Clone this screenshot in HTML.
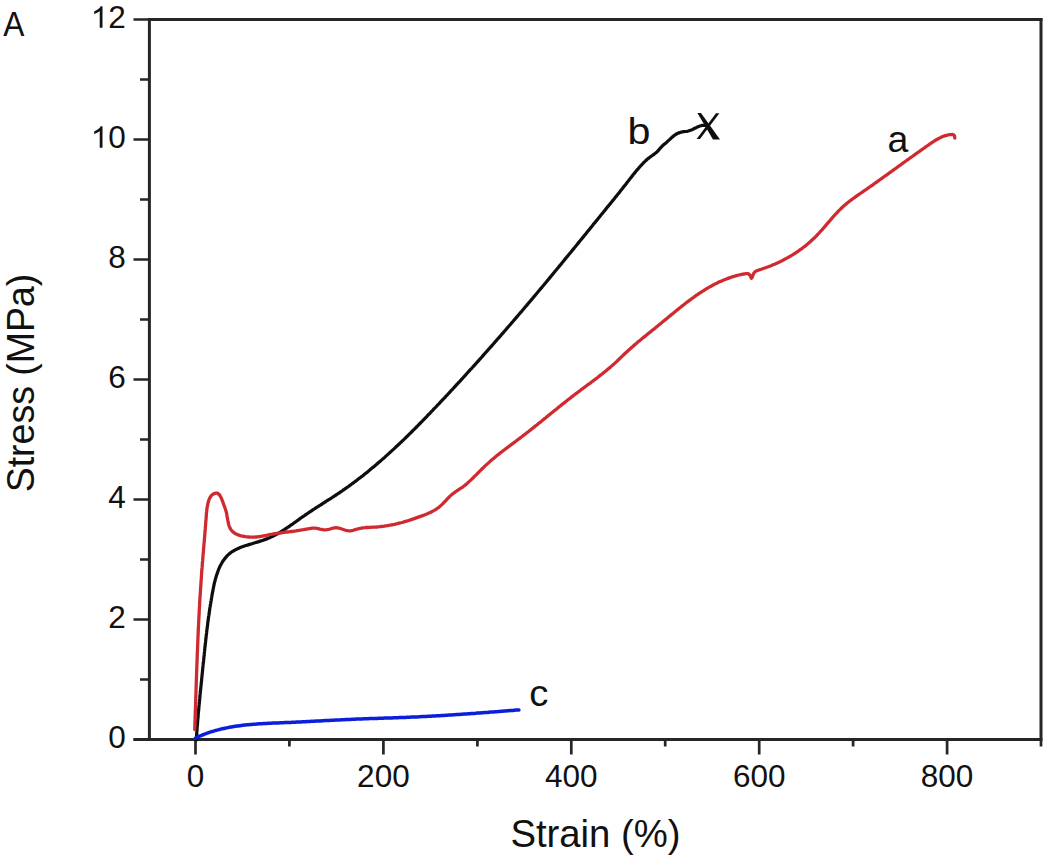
<!DOCTYPE html>
<html><head><meta charset="utf-8"><style>
html,body{margin:0;padding:0;background:#fff;}
svg{display:block;}
text{font-family:"Liberation Sans",sans-serif;fill:#111;}
</style></head><body>
<svg width="1050" height="857" viewBox="0 0 1050 857">
<rect width="1050" height="857" fill="#fff"/>
<path d="M149.4 18.2V739.5 M1041.0 18.2V739.5" stroke="#262626" stroke-width="3" fill="none"/>
<path d="M147.9 19.5H1042.5 M133.5 739.5H1042.5" stroke="#262626" stroke-width="3" fill="none"/>
<path d="M133.5 739.5H149.4 M140 679.5H149.4 M133.5 619.5H149.4 M140 559.5H149.4 M133.5 499.5H149.4 M140 439.5H149.4 M133.5 379.5H149.4 M140 319.5H149.4 M133.5 259.5H149.4 M140 199.5H149.4 M133.5 139.5H149.4 M140 79.5H149.4 M133.5 19.5H149.4 M195.5 739.5V754.5 M289.4 739.5V746.5 M383.4 739.5V754.5 M477.4 739.5V746.5 M571.3 739.5V754.5 M665.2 739.5V746.5 M759.2 739.5V754.5 M853.1 739.5V746.5 M947.1 739.5V754.5 M1041.0 739.5V746.5" stroke="#262626" stroke-width="2.7" fill="none"/>
<text x="125.8" y="747.8" text-anchor="end" font-size="31.5">0</text>
<text x="125.8" y="627.8" text-anchor="end" font-size="31.5">2</text>
<text x="125.8" y="507.8" text-anchor="end" font-size="31.5">4</text>
<text x="125.8" y="387.8" text-anchor="end" font-size="31.5">6</text>
<text x="125.8" y="267.8" text-anchor="end" font-size="31.5">8</text>
<text x="125.8" y="147.8" text-anchor="end" font-size="31.5">0</text>
<path transform="translate(90.76 147.80) scale(0.015381 -0.015381)" d="M763 0H583V1098Q518 1038 412 979T223 890V1057Q375 1125 489 1221T650 1409H763Z" fill="#111"/>
<text x="125.8" y="27.8" text-anchor="end" font-size="31.5">2</text>
<path transform="translate(90.76 27.80) scale(0.015381 -0.015381)" d="M763 0H583V1098Q518 1038 412 979T223 890V1057Q375 1125 489 1221T650 1409H763Z" fill="#111"/>
<text x="195.5" y="787" text-anchor="middle" font-size="31.5">0</text>
<text x="383.4" y="787" text-anchor="middle" font-size="31.5">200</text>
<text x="571.3" y="787" text-anchor="middle" font-size="31.5">400</text>
<text x="759.2" y="787" text-anchor="middle" font-size="31.5">600</text>
<text x="947.1" y="787" text-anchor="middle" font-size="31.5">800</text>
<text transform="translate(595.5 846.6) scale(1 1.03)" text-anchor="middle" font-size="38.3">Strain (%)</text>
<text transform="translate(34 383) rotate(-90) scale(1 1.05)" text-anchor="middle" font-size="37.5">Stress (MPa)</text>
<text transform="translate(3.2 35.6) scale(0.88 1)" font-size="36">A</text>
<text transform="translate(627.6 143.6) scale(1.1 1)" font-size="37.5">b</text>
<text x="887.5" y="151.5" font-size="37.5">a</text>
<text transform="translate(529.2 706) scale(1.05 1)" font-size="36.5">c</text>
<path d="M196.4 739.9 L196.4 738.5 L196.5 737.0 L196.6 735.5 L196.7 734.1 L196.8 732.6 L196.9 731.1 L197.0 729.7 L197.1 728.2 L197.2 726.7 L197.4 725.2 L197.5 723.8 L197.6 722.3 L197.7 720.8 L197.8 719.3 L198.0 717.8 L198.1 716.3 L198.2 714.8 L198.3 713.3 L198.5 711.8 L198.6 710.3 L198.8 708.8 L198.9 707.3 L199.0 705.7 L199.2 704.2 L199.3 702.7 L199.5 701.2 L199.6 699.7 L199.8 698.2 L199.9 696.7 L200.0 695.2 L200.2 693.7 L200.3 692.1 L200.5 690.6 L200.7 689.1 L200.8 687.6 L201.0 686.1 L201.1 684.6 L201.3 683.1 L201.4 681.6 L201.6 680.1 L201.7 678.6 L201.9 677.1 L202.0 675.6 L202.2 674.1 L202.3 672.6 L202.5 671.1 L202.6 669.6 L202.8 668.1 L202.9 666.6 L203.1 665.2 L203.2 663.7 L203.4 662.2 L203.6 660.7 L203.7 659.3 L203.9 657.8 L204.0 656.3 L204.2 654.9 L204.3 653.4 L204.5 651.9 L204.6 650.5 L204.8 649.0 L204.9 647.5 L205.1 646.1 L205.2 644.6 L205.4 643.1 L205.6 641.7 L205.7 640.2 L205.9 638.8 L206.1 637.3 L206.2 635.8 L206.4 634.4 L206.6 632.9 L206.7 631.5 L206.9 630.0 L207.1 628.5 L207.3 627.1 L207.5 625.6 L207.7 624.1 L207.8 622.6 L208.0 621.2 L208.2 619.7 L208.4 618.2 L208.6 616.7 L208.9 615.2 L209.1 613.8 L209.3 612.3 L209.5 610.8 L209.7 609.3 L209.9 607.8 L210.2 606.3 L210.4 604.8 L210.7 603.3 L210.9 601.8 L211.2 600.2 L211.4 598.7 L211.7 597.2 L211.9 595.7 L212.2 594.1 L212.5 592.6 L212.8 591.1 L213.1 589.5 L213.4 588.0 L213.7 586.5 L214.0 584.9 L214.3 583.4 L214.7 581.9 L215.1 580.4 L215.5 578.9 L215.9 577.4 L216.3 576.0 L216.8 574.5 L217.3 573.1 L217.8 571.7 L218.3 570.3 L218.8 569.0 L219.4 567.6 L220.0 566.3 L220.7 565.0 L221.4 563.8 L222.1 562.5 L222.8 561.3 L223.6 560.2 L224.4 559.1 L225.3 558.0 L226.2 556.9 L227.1 555.9 L228.1 554.9 L229.1 554.0 L230.2 553.1 L231.3 552.3 L232.4 551.5 L233.6 550.8 L234.9 550.1 L236.1 549.4 L237.5 548.8 L238.8 548.2 L240.2 547.6 L241.6 547.0 L243.0 546.5 L244.4 546.0 L245.9 545.5 L247.4 545.1 L248.9 544.6 L250.4 544.1 L251.9 543.7 L253.4 543.2 L254.9 542.8 L256.4 542.3 L258.0 541.9 L259.5 541.4 L261.0 540.9 L262.4 540.5 L263.9 539.9 L265.4 539.4 L266.8 538.9 L268.2 538.3 L269.6 537.7 L271.0 537.1 L272.4 536.4 L273.7 535.8 L275.1 535.1 L276.4 534.4 L277.7 533.7 L279.0 532.9 L280.2 532.2 L281.5 531.4 L282.8 530.6 L284.0 529.8 L285.2 529.0 L286.5 528.2 L287.7 527.4 L288.9 526.6 L290.1 525.7 L291.3 524.9 L292.5 524.1 L293.7 523.2 L294.9 522.3 L296.1 521.5 L297.3 520.6 L298.5 519.8 L299.7 518.9 L300.9 518.0 L302.1 517.2 L303.4 516.3 L304.6 515.5 L305.8 514.6 L307.0 513.8 L308.2 513.0 L309.5 512.1 L310.7 511.3 L312.0 510.5 L313.2 509.6 L314.5 508.8 L315.7 508.0 L317.0 507.2 L318.3 506.4 L319.5 505.6 L320.8 504.8 L322.1 504.0 L323.3 503.1 L324.6 502.3 L325.9 501.5 L327.1 500.7 L328.4 499.9 L329.7 499.1 L331.0 498.3 L332.2 497.5 L333.5 496.6 L334.7 495.8 L336.0 495.0 L337.3 494.2 L338.5 493.3 L339.8 492.5 L341.0 491.6 L342.3 490.8 L343.5 489.9 L344.7 489.1 L346.0 488.2 L347.2 487.3 L348.4 486.5 L349.6 485.6 L350.8 484.7 L352.0 483.8 L353.3 482.9 L354.5 482.0 L355.7 481.1 L356.9 480.2 L358.0 479.3 L359.2 478.4 L360.4 477.5 L361.6 476.6 L362.8 475.7 L364.0 474.7 L365.1 473.8 L366.3 472.9 L367.5 471.9 L368.6 471.0 L369.8 470.0 L370.9 469.1 L372.1 468.1 L373.2 467.2 L374.4 466.2 L375.5 465.3 L376.7 464.3 L377.8 463.3 L378.9 462.3 L380.1 461.4 L381.2 460.4 L382.3 459.4 L383.4 458.4 L384.6 457.4 L385.7 456.4 L386.8 455.4 L387.9 454.4 L389.0 453.4 L390.1 452.4 L391.2 451.4 L392.3 450.4 L393.4 449.4 L394.5 448.4 L395.6 447.3 L396.7 446.3 L397.8 445.3 L398.9 444.3 L400.0 443.2 L401.0 442.2 L402.1 441.2 L403.2 440.1 L404.3 439.1 L405.3 438.1 L406.4 437.0 L407.5 436.0 L408.6 434.9 L409.6 433.9 L410.7 432.8 L411.8 431.8 L412.8 430.7 L413.9 429.6 L414.9 428.6 L416.0 427.5 L417.0 426.5 L418.1 425.4 L419.1 424.3 L420.2 423.3 L421.2 422.2 L422.3 421.1 L423.3 420.0 L424.4 419.0 L425.4 417.9 L426.5 416.8 L427.5 415.7 L428.5 414.7 L429.6 413.6 L430.6 412.5 L431.6 411.4 L432.7 410.3 L433.7 409.2 L434.7 408.2 L435.8 407.1 L436.8 406.0 L437.8 404.9 L438.9 403.8 L439.9 402.7 L440.9 401.6 L441.9 400.5 L443.0 399.4 L444.0 398.4 L445.0 397.3 L446.0 396.2 L447.1 395.1 L448.1 394.0 L449.1 392.9 L450.1 391.8 L451.1 390.7 L452.2 389.6 L453.2 388.5 L454.2 387.4 L455.2 386.3 L456.2 385.2 L457.2 384.1 L458.2 383.0 L459.3 381.9 L460.3 380.8 L461.3 379.7 L462.3 378.6 L463.3 377.5 L464.3 376.4 L465.3 375.3 L466.3 374.1 L467.3 373.0 L468.3 371.9 L469.3 370.8 L470.3 369.7 L471.4 368.6 L472.4 367.5 L473.4 366.4 L474.4 365.3 L475.4 364.2 L476.4 363.0 L477.4 361.9 L478.4 360.8 L479.4 359.7 L480.4 358.6 L481.4 357.5 L482.4 356.4 L483.3 355.2 L484.3 354.1 L485.3 353.0 L486.3 351.9 L487.3 350.8 L488.3 349.6 L489.3 348.5 L490.3 347.4 L491.3 346.3 L492.3 345.2 L493.3 344.0 L494.3 342.9 L495.2 341.8 L496.2 340.7 L497.2 339.5 L498.2 338.4 L499.2 337.3 L500.2 336.2 L501.2 335.0 L502.1 333.9 L503.1 332.8 L504.1 331.7 L505.1 330.5 L506.1 329.4 L507.0 328.3 L508.0 327.1 L509.0 326.0 L510.0 324.9 L511.0 323.7 L511.9 322.6 L512.9 321.5 L513.9 320.3 L514.9 319.2 L515.8 318.1 L516.8 316.9 L517.8 315.8 L518.7 314.7 L519.7 313.5 L520.7 312.4 L521.7 311.3 L522.6 310.1 L523.6 309.0 L524.6 307.8 L525.5 306.7 L526.5 305.6 L527.5 304.4 L528.4 303.3 L529.4 302.1 L530.4 301.0 L531.3 299.9 L532.3 298.7 L533.2 297.6 L534.2 296.4 L535.2 295.3 L536.1 294.1 L537.1 293.0 L538.1 291.8 L539.0 290.7 L540.0 289.5 L540.9 288.4 L541.9 287.3 L542.8 286.1 L543.8 285.0 L544.8 283.8 L545.7 282.7 L546.7 281.5 L547.6 280.4 L548.6 279.2 L549.5 278.1 L550.5 276.9 L551.4 275.8 L552.4 274.6 L553.3 273.5 L554.3 272.3 L555.2 271.1 L556.2 270.0 L557.2 268.8 L558.1 267.7 L559.1 266.5 L560.0 265.4 L561.0 264.2 L561.9 263.1 L562.8 261.9 L563.8 260.8 L564.7 259.6 L565.7 258.4 L566.6 257.3 L567.6 256.1 L568.5 255.0 L569.5 253.8 L570.4 252.7 L571.4 251.5 L572.3 250.3 L573.3 249.2 L574.2 248.0 L575.2 246.9 L576.1 245.7 L577.1 244.5 L578.0 243.4 L578.9 242.2 L579.9 241.1 L580.8 239.9 L581.8 238.7 L582.7 237.6 L583.7 236.4 L584.6 235.3 L585.6 234.1 L586.5 232.9 L587.4 231.8 L588.4 230.6 L589.3 229.5 L590.3 228.3 L591.2 227.1 L592.2 226.0 L593.1 224.8 L594.0 223.6 L595.0 222.5 L595.9 221.3 L596.9 220.2 L597.8 219.0 L598.8 217.8 L599.7 216.7 L600.6 215.5 L601.6 214.3 L602.5 213.2 L603.5 212.0 L604.4 210.8 L605.4 209.7 L606.3 208.5 L607.2 207.3 L608.2 206.2 L609.1 205.0 L610.1 203.9 L611.0 202.7 L612.0 201.5 L612.9 200.4 L613.9 199.2 L614.8 198.0 L615.7 196.9 L616.7 195.7 L617.6 194.5 L618.6 193.4 L619.5 192.2 L620.4 191.0 L621.4 189.8 L622.3 188.7 L623.2 187.5 L624.1 186.3 L625.1 185.1 L626.0 184.0 L626.9 182.8 L627.8 181.6 L628.7 180.4 L629.6 179.2 L630.6 178.0 L631.5 176.9 L632.4 175.7 L633.3 174.5 L634.3 173.4 L635.2 172.2 L636.2 171.0 L637.1 169.9 L638.1 168.8 L639.1 167.6 L640.1 166.5 L641.1 165.4 L642.1 164.3 L643.2 163.2 L644.2 162.1 L645.3 161.1 L646.4 160.0 L647.5 159.0 L648.7 158.1 L649.9 157.2 L651.1 156.3 L652.3 155.5 L653.5 154.6 L654.7 153.7 L655.9 152.8 L657.0 151.9 L658.0 150.8 L659.0 149.7 L660.0 148.5 L661.0 147.4 L662.0 146.3 L663.1 145.3 L664.2 144.3 L665.3 143.4 L666.5 142.4 L667.6 141.4 L668.7 140.4 L669.8 139.4 L670.9 138.3 L672.1 137.3 L673.2 136.3 L674.4 135.4 L675.6 134.5 L676.9 133.8 L678.2 133.1 L679.6 132.6 L681.0 132.2 L682.5 131.9 L683.9 131.7 L685.4 131.5 L686.9 131.3 L688.4 131.0 L689.8 130.5 L691.2 130.0 L692.6 129.4 L693.9 128.7 L695.3 128.0 L696.6 127.4 L698.0 126.7 L699.3 126.2 L700.8 125.8 L702.2 125.4 L703.7 125.3 L705.2 125.3 L706.8 125.6" stroke="#0e0e0e" stroke-width="3.25" fill="none" stroke-linejoin="round" stroke-linecap="round"/>
<path d="M194.7 729.5 L194.8 728.0 L194.8 726.5 L194.9 725.0 L194.9 723.5 L195.0 722.0 L195.0 720.5 L195.1 719.0 L195.1 717.5 L195.2 716.0 L195.2 714.5 L195.3 713.0 L195.3 711.5 L195.4 710.0 L195.4 708.5 L195.5 707.0 L195.5 705.5 L195.6 704.0 L195.6 702.5 L195.7 701.0 L195.7 699.5 L195.8 698.0 L195.8 696.5 L195.9 695.0 L195.9 693.5 L196.0 692.0 L196.0 690.5 L196.1 689.0 L196.1 687.5 L196.2 686.0 L196.2 684.5 L196.3 683.0 L196.3 681.5 L196.4 680.0 L196.4 678.5 L196.5 677.0 L196.5 675.5 L196.6 674.0 L196.6 672.5 L196.7 671.0 L196.7 669.6 L196.8 668.1 L196.8 666.6 L196.9 665.1 L197.0 663.6 L197.0 662.1 L197.1 660.6 L197.1 659.1 L197.2 657.6 L197.2 656.1 L197.3 654.6 L197.3 653.1 L197.4 651.6 L197.5 650.1 L197.5 648.6 L197.6 647.1 L197.6 645.6 L197.7 644.1 L197.8 642.6 L197.8 641.1 L197.9 639.6 L197.9 638.1 L198.0 636.6 L198.1 635.1 L198.1 633.6 L198.2 632.1 L198.3 630.6 L198.3 629.1 L198.4 627.6 L198.5 626.1 L198.6 624.6 L198.6 623.1 L198.7 621.7 L198.8 620.2 L198.8 618.7 L198.9 617.2 L199.0 615.7 L199.1 614.2 L199.2 612.7 L199.2 611.2 L199.3 609.7 L199.4 608.2 L199.5 606.7 L199.6 605.2 L199.6 603.7 L199.7 602.2 L199.8 600.7 L199.9 599.2 L200.0 597.7 L200.1 596.2 L200.2 594.7 L200.3 593.2 L200.4 591.7 L200.5 590.2 L200.6 588.7 L200.7 587.2 L200.8 585.7 L200.9 584.2 L201.0 582.7 L201.1 581.2 L201.2 579.7 L201.3 578.2 L201.4 576.7 L201.5 575.2 L201.6 573.7 L201.7 572.2 L201.8 570.7 L201.9 569.2 L202.1 567.7 L202.2 566.2 L202.3 564.7 L202.4 563.2 L202.5 561.7 L202.7 560.2 L202.8 558.7 L202.9 557.3 L203.0 555.8 L203.1 554.3 L203.3 552.8 L203.4 551.3 L203.5 549.8 L203.6 548.3 L203.8 546.8 L203.9 545.3 L204.0 543.8 L204.2 542.3 L204.3 540.8 L204.4 539.3 L204.5 537.8 L204.7 536.3 L204.8 534.9 L204.9 533.4 L205.0 531.9 L205.1 530.4 L205.3 528.9 L205.4 527.4 L205.5 526.0 L205.6 524.5 L205.7 523.0 L205.8 521.5 L206.0 520.1 L206.1 518.6 L206.2 517.1 L206.3 515.6 L206.4 514.2 L206.5 512.7 L206.7 511.2 L206.8 509.7 L207.0 508.2 L207.3 506.7 L207.6 505.1 L207.9 503.6 L208.3 502.0 L208.7 500.5 L209.3 499.0 L210.0 497.6 L210.8 496.3 L211.8 495.1 L213.0 494.2 L214.3 493.5 L215.7 493.1 L216.9 493.1 L218.0 493.6 L219.0 494.4 L219.8 495.4 L220.6 496.8 L221.4 498.2 L222.0 499.8 L222.6 501.4 L223.2 503.0 L223.7 504.5 L224.2 505.9 L224.7 507.2 L225.2 508.5 L225.6 509.8 L226.0 511.1 L226.4 512.5 L226.7 514.0 L226.9 515.5 L227.2 517.1 L227.5 518.7 L227.8 520.3 L228.1 521.9 L228.4 523.4 L228.8 525.0 L229.3 526.4 L229.9 527.8 L230.6 529.1 L231.4 530.2 L232.3 531.3 L233.3 532.2 L234.4 533.0 L235.6 533.7 L236.9 534.4 L238.2 534.9 L239.6 535.4 L241.1 535.8 L242.5 536.1 L244.0 536.4 L245.5 536.7 L247.0 536.9 L248.6 537.0 L250.1 537.1 L251.6 537.2 L253.1 537.2 L254.6 537.1 L256.1 537.0 L257.6 536.9 L259.1 536.7 L260.6 536.5 L262.1 536.2 L263.5 535.9 L265.0 535.6 L266.5 535.3 L267.9 535.0 L269.4 534.7 L270.8 534.4 L272.3 534.2 L273.8 533.9 L275.2 533.7 L276.7 533.5 L278.2 533.2 L279.7 533.0 L281.2 532.8 L282.6 532.6 L284.1 532.4 L285.6 532.2 L287.1 532.0 L288.6 531.9 L290.1 531.7 L291.6 531.5 L293.1 531.3 L294.5 531.1 L296.0 530.9 L297.5 530.6 L299.0 530.4 L300.5 530.2 L302.0 529.9 L303.5 529.7 L305.0 529.4 L306.5 529.1 L307.9 528.8 L309.4 528.6 L310.9 528.4 L312.4 528.2 L313.9 528.1 L315.4 528.2 L316.8 528.4 L318.3 528.7 L319.8 529.1 L321.3 529.4 L322.7 529.7 L324.2 529.9 L325.7 529.9 L327.1 529.7 L328.6 529.4 L330.1 529.0 L331.5 528.5 L333.0 528.2 L334.5 527.9 L336.0 527.7 L337.5 527.8 L338.9 528.1 L340.4 528.5 L341.8 529.0 L343.3 529.5 L344.7 530.0 L346.1 530.4 L347.5 530.7 L348.9 530.9 L350.4 530.8 L351.8 530.6 L353.2 530.3 L354.6 529.8 L356.1 529.4 L357.5 529.0 L359.0 528.6 L360.5 528.3 L361.9 528.0 L363.4 527.8 L364.9 527.7 L366.4 527.5 L367.9 527.5 L369.4 527.4 L370.9 527.3 L372.4 527.2 L373.9 527.2 L375.4 527.1 L376.9 527.0 L378.4 526.8 L379.8 526.7 L381.3 526.5 L382.8 526.4 L384.3 526.2 L385.8 525.9 L387.3 525.7 L388.7 525.4 L390.2 525.2 L391.7 524.9 L393.2 524.6 L394.6 524.3 L396.1 523.9 L397.5 523.6 L399.0 523.2 L400.5 522.8 L401.9 522.5 L403.4 522.1 L404.8 521.6 L406.3 521.2 L407.7 520.8 L409.1 520.3 L410.6 519.9 L412.0 519.4 L413.4 518.9 L414.9 518.4 L416.3 517.9 L417.7 517.4 L419.1 516.9 L420.5 516.4 L422.0 515.9 L423.4 515.4 L424.8 514.8 L426.2 514.3 L427.5 513.7 L428.9 513.1 L430.3 512.5 L431.6 511.8 L432.9 511.1 L434.2 510.4 L435.5 509.6 L436.7 508.8 L437.9 508.0 L439.1 507.1 L440.2 506.1 L441.3 505.1 L442.4 504.1 L443.5 503.0 L444.5 501.9 L445.6 500.8 L446.6 499.7 L447.6 498.6 L448.7 497.5 L449.8 496.4 L450.9 495.4 L452.0 494.4 L453.2 493.5 L454.4 492.6 L455.6 491.7 L456.9 490.9 L458.1 490.0 L459.4 489.2 L460.6 488.4 L461.9 487.6 L463.1 486.7 L464.3 485.8 L465.4 484.9 L466.6 483.9 L467.7 482.9 L468.8 481.9 L469.9 480.9 L471.0 479.9 L472.1 478.8 L473.2 477.8 L474.2 476.7 L475.3 475.6 L476.4 474.6 L477.4 473.5 L478.5 472.5 L479.5 471.4 L480.6 470.3 L481.7 469.3 L482.7 468.2 L483.8 467.2 L484.9 466.1 L486.0 465.1 L487.1 464.1 L488.2 463.1 L489.3 462.1 L490.4 461.1 L491.6 460.1 L492.7 459.1 L493.8 458.2 L495.0 457.2 L496.1 456.3 L497.3 455.3 L498.5 454.4 L499.6 453.5 L500.8 452.5 L502.0 451.6 L503.2 450.7 L504.4 449.8 L505.6 448.9 L506.8 448.0 L508.0 447.1 L509.2 446.2 L510.4 445.3 L511.6 444.4 L512.8 443.5 L514.0 442.6 L515.2 441.7 L516.4 440.8 L517.6 439.9 L518.8 439.0 L519.9 438.1 L521.1 437.2 L522.3 436.3 L523.5 435.4 L524.7 434.5 L525.9 433.6 L527.1 432.6 L528.3 431.7 L529.4 430.8 L530.6 429.9 L531.8 428.9 L533.0 428.0 L534.1 427.1 L535.3 426.1 L536.5 425.2 L537.7 424.3 L538.8 423.3 L540.0 422.4 L541.2 421.4 L542.3 420.5 L543.5 419.5 L544.6 418.6 L545.8 417.7 L547.0 416.7 L548.1 415.8 L549.3 414.8 L550.5 413.9 L551.6 412.9 L552.8 412.0 L554.0 411.0 L555.1 410.1 L556.3 409.2 L557.5 408.2 L558.6 407.3 L559.8 406.3 L561.0 405.4 L562.1 404.5 L563.3 403.5 L564.5 402.6 L565.6 401.7 L566.8 400.7 L568.0 399.8 L569.2 398.9 L570.4 398.0 L571.5 397.0 L572.7 396.1 L573.9 395.2 L575.1 394.3 L576.3 393.4 L577.5 392.5 L578.7 391.6 L579.9 390.7 L581.1 389.8 L582.3 388.9 L583.5 388.0 L584.7 387.1 L585.9 386.2 L587.1 385.3 L588.3 384.4 L589.5 383.6 L590.7 382.7 L591.9 381.8 L593.1 380.9 L594.3 380.0 L595.5 379.1 L596.7 378.2 L597.9 377.3 L599.1 376.3 L600.2 375.4 L601.4 374.5 L602.6 373.6 L603.8 372.6 L604.9 371.7 L606.1 370.8 L607.2 369.8 L608.4 368.8 L609.5 367.9 L610.7 366.9 L611.8 365.9 L612.9 364.9 L614.1 363.9 L615.2 362.9 L616.3 361.9 L617.4 360.8 L618.5 359.8 L619.5 358.7 L620.6 357.7 L621.7 356.6 L622.8 355.6 L623.9 354.5 L625.0 353.5 L626.1 352.5 L627.2 351.5 L628.3 350.5 L629.4 349.5 L630.5 348.5 L631.6 347.5 L632.8 346.5 L633.9 345.5 L635.0 344.5 L636.2 343.6 L637.3 342.6 L638.5 341.6 L639.6 340.7 L640.8 339.7 L641.9 338.8 L643.1 337.8 L644.2 336.9 L645.4 335.9 L646.5 335.0 L647.7 334.1 L648.9 333.1 L650.0 332.2 L651.2 331.2 L652.3 330.3 L653.5 329.4 L654.7 328.4 L655.8 327.5 L657.0 326.5 L658.2 325.6 L659.3 324.6 L660.5 323.7 L661.6 322.7 L662.8 321.8 L664.0 320.8 L665.1 319.9 L666.3 318.9 L667.4 318.0 L668.6 317.0 L669.8 316.0 L670.9 315.1 L672.1 314.1 L673.3 313.2 L674.4 312.2 L675.6 311.3 L676.8 310.3 L677.9 309.4 L679.1 308.4 L680.3 307.5 L681.5 306.5 L682.6 305.6 L683.8 304.7 L685.0 303.7 L686.2 302.8 L687.4 301.9 L688.6 301.0 L689.8 300.1 L691.0 299.2 L692.2 298.3 L693.4 297.5 L694.6 296.6 L695.8 295.7 L697.1 294.9 L698.3 294.0 L699.6 293.2 L700.8 292.4 L702.0 291.6 L703.3 290.8 L704.6 290.0 L705.8 289.2 L707.1 288.4 L708.4 287.7 L709.7 286.9 L711.0 286.2 L712.3 285.5 L713.6 284.8 L714.9 284.1 L716.3 283.4 L717.6 282.8 L719.0 282.1 L720.3 281.5 L721.7 280.9 L723.1 280.3 L724.5 279.7 L725.9 279.2 L727.3 278.6 L728.7 278.1 L730.1 277.6 L731.5 277.1 L733.0 276.7 L734.4 276.2 L735.9 275.8 L737.4 275.4 L738.9 275.0 L740.4 274.7 L741.9 274.3 L743.4 274.0 L744.9 273.8 L746.3 273.6 L747.7 273.6 L748.9 274.0 L749.8 275.1 L750.5 276.4 L751.0 277.5 L751.4 278.2 L751.8 277.9 L752.3 276.9 L752.8 275.4 L753.5 273.8 L754.4 272.4 L755.5 271.4 L756.8 270.7 L758.2 270.2 L759.7 269.7 L761.1 269.3 L762.6 268.8 L764.0 268.3 L765.4 267.8 L766.8 267.3 L768.2 266.8 L769.7 266.2 L771.1 265.7 L772.4 265.1 L773.8 264.5 L775.2 263.9 L776.6 263.3 L778.0 262.7 L779.3 262.0 L780.7 261.4 L782.0 260.7 L783.4 260.0 L784.7 259.3 L786.0 258.6 L787.3 257.9 L788.6 257.2 L789.9 256.4 L791.2 255.7 L792.5 254.9 L793.7 254.1 L795.0 253.3 L796.3 252.5 L797.5 251.6 L798.7 250.8 L799.9 249.9 L801.1 249.1 L802.3 248.2 L803.5 247.3 L804.7 246.4 L805.9 245.4 L807.0 244.5 L808.2 243.5 L809.3 242.5 L810.4 241.6 L811.5 240.5 L812.6 239.5 L813.7 238.5 L814.8 237.5 L815.9 236.4 L816.9 235.3 L817.9 234.2 L819.0 233.1 L820.0 232.0 L821.0 230.9 L822.0 229.8 L823.0 228.7 L824.0 227.5 L825.0 226.4 L825.9 225.2 L826.9 224.1 L827.9 222.9 L828.9 221.8 L829.9 220.7 L830.9 219.5 L831.8 218.4 L832.8 217.2 L833.8 216.1 L834.8 215.0 L835.8 213.9 L836.9 212.8 L837.9 211.7 L838.9 210.6 L840.0 209.6 L841.1 208.5 L842.1 207.5 L843.2 206.5 L844.3 205.5 L845.5 204.5 L846.6 203.6 L847.7 202.6 L848.9 201.7 L850.1 200.8 L851.3 199.9 L852.5 199.0 L853.7 198.1 L854.9 197.3 L856.1 196.4 L857.3 195.5 L858.6 194.7 L859.8 193.8 L861.0 193.0 L862.3 192.1 L863.5 191.3 L864.7 190.4 L866.0 189.6 L867.2 188.7 L868.4 187.9 L869.7 187.0 L870.9 186.1 L872.1 185.3 L873.4 184.4 L874.6 183.5 L875.8 182.7 L877.1 181.8 L878.3 180.9 L879.5 180.0 L880.7 179.2 L882.0 178.3 L883.2 177.4 L884.4 176.5 L885.6 175.6 L886.8 174.8 L888.1 173.9 L889.3 173.0 L890.5 172.1 L891.7 171.3 L892.9 170.4 L894.1 169.5 L895.4 168.6 L896.6 167.8 L897.8 166.9 L899.0 166.0 L900.2 165.1 L901.4 164.3 L902.6 163.4 L903.8 162.5 L905.0 161.7 L906.2 160.8 L907.4 159.9 L908.6 159.1 L909.8 158.2 L911.0 157.3 L912.2 156.5 L913.5 155.6 L914.7 154.7 L915.9 153.9 L917.1 153.0 L918.3 152.1 L919.6 151.3 L920.8 150.4 L922.0 149.5 L923.3 148.6 L924.5 147.8 L925.7 146.9 L927.0 146.0 L928.3 145.1 L929.5 144.2 L930.8 143.3 L932.1 142.5 L933.4 141.6 L934.6 140.8 L935.9 140.0 L937.3 139.3 L938.6 138.5 L939.9 137.9 L941.2 137.2 L942.6 136.6 L944.0 136.1 L945.3 135.7 L946.7 135.3 L948.1 135.0 L949.5 134.7 L950.9 134.6 L952.4 134.5 L953.6 134.9 L954.5 135.9 L954.8 138.0" stroke="#cf2a30" stroke-width="3.3" fill="none" stroke-linejoin="round" stroke-linecap="round"/>
<path d="M195.5 738.2 L196.9 737.5 L198.2 736.8 L199.6 736.2 L201.0 735.6 L202.4 735.0 L203.8 734.5 L205.2 733.9 L206.6 733.4 L208.0 732.9 L209.4 732.4 L210.8 731.9 L212.2 731.5 L213.6 731.1 L215.1 730.6 L216.5 730.2 L217.9 729.9 L219.4 729.5 L220.8 729.1 L222.2 728.8 L223.7 728.5 L225.1 728.2 L226.6 727.9 L228.0 727.6 L229.5 727.3 L231.0 727.0 L232.4 726.8 L233.9 726.5 L235.4 726.3 L236.8 726.1 L238.3 725.9 L239.8 725.7 L241.3 725.5 L242.8 725.3 L244.2 725.1 L245.7 725.0 L247.2 724.8 L248.7 724.7 L250.2 724.5 L251.7 724.4 L253.2 724.3 L254.6 724.2 L256.1 724.1 L257.6 723.9 L259.1 723.8 L260.6 723.7 L262.1 723.7 L263.6 723.6 L265.1 723.5 L266.6 723.4 L268.1 723.3 L269.6 723.3 L271.1 723.2 L272.6 723.1 L274.1 723.0 L275.6 723.0 L277.1 722.9 L278.6 722.9 L280.1 722.8 L281.6 722.7 L283.1 722.7 L284.6 722.6 L286.1 722.6 L287.6 722.5 L289.1 722.4 L290.6 722.4 L292.1 722.3 L293.6 722.2 L295.1 722.2 L296.6 722.1 L298.1 722.0 L299.6 722.0 L301.1 721.9 L302.6 721.8 L304.1 721.7 L305.6 721.7 L307.1 721.6 L308.6 721.5 L310.1 721.4 L311.6 721.3 L313.1 721.3 L314.5 721.2 L316.0 721.1 L317.5 721.0 L319.0 721.0 L320.5 720.9 L322.0 720.8 L323.5 720.7 L325.0 720.6 L326.5 720.6 L328.0 720.5 L329.4 720.4 L330.9 720.3 L332.4 720.2 L333.9 720.2 L335.4 720.1 L336.9 720.0 L338.4 719.9 L339.9 719.9 L341.4 719.8 L342.9 719.7 L344.3 719.7 L345.8 719.6 L347.3 719.5 L348.8 719.5 L350.3 719.4 L351.8 719.3 L353.3 719.3 L354.8 719.2 L356.3 719.1 L357.8 719.1 L359.2 719.0 L360.7 719.0 L362.2 718.9 L363.7 718.8 L365.2 718.8 L366.7 718.7 L368.2 718.7 L369.7 718.6 L371.2 718.6 L372.7 718.5 L374.2 718.5 L375.7 718.4 L377.2 718.4 L378.6 718.3 L380.1 718.3 L381.6 718.2 L383.1 718.2 L384.6 718.1 L386.1 718.1 L387.6 718.0 L389.1 718.0 L390.6 717.9 L392.1 717.9 L393.6 717.8 L395.1 717.8 L396.6 717.7 L398.1 717.7 L399.6 717.6 L401.1 717.5 L402.6 717.5 L404.0 717.4 L405.5 717.4 L407.0 717.3 L408.5 717.3 L410.0 717.2 L411.5 717.1 L413.0 717.1 L414.5 717.0 L416.0 716.9 L417.5 716.9 L419.0 716.8 L420.5 716.7 L422.0 716.6 L423.5 716.6 L425.0 716.5 L426.5 716.4 L427.9 716.3 L429.4 716.2 L430.9 716.2 L432.4 716.1 L433.9 716.0 L435.4 715.9 L436.9 715.8 L438.4 715.7 L439.9 715.7 L441.4 715.6 L442.9 715.5 L444.4 715.4 L445.9 715.3 L447.3 715.2 L448.8 715.1 L450.3 715.0 L451.8 714.9 L453.3 714.8 L454.8 714.7 L456.3 714.6 L457.8 714.5 L459.3 714.4 L460.8 714.3 L462.3 714.2 L463.8 714.1 L465.3 714.0 L466.7 713.9 L468.2 713.8 L469.7 713.7 L471.2 713.6 L472.7 713.5 L474.2 713.4 L475.7 713.3 L477.2 713.1 L478.7 713.0 L480.2 712.9 L481.7 712.8 L483.1 712.7 L484.6 712.6 L486.1 712.5 L487.6 712.4 L489.1 712.2 L490.6 712.1 L492.1 712.0 L493.6 711.9 L495.1 711.8 L496.6 711.7 L498.0 711.6 L499.5 711.4 L501.0 711.3 L502.5 711.2 L504.0 711.1 L505.5 711.0 L507.0 710.8 L508.5 710.7 L510.0 710.6 L511.5 710.5 L512.9 710.4 L514.4 710.2 L515.9 710.1 L517.4 710.0 L518.9 709.9" stroke="#0a1edc" stroke-width="3.5" fill="none" stroke-linejoin="round" stroke-linecap="round"/>
<path d="M697.4 113.0 L701.0 113.0 L720.0 139.4 L713.0 139.4 Z" fill="#0e0e0e"/>
<path d="M716.0 113.2 L719.4 113.2 L700.0 139.0 L696.6 139.0 Z" fill="#0e0e0e"/>
</svg>
</body></html>
